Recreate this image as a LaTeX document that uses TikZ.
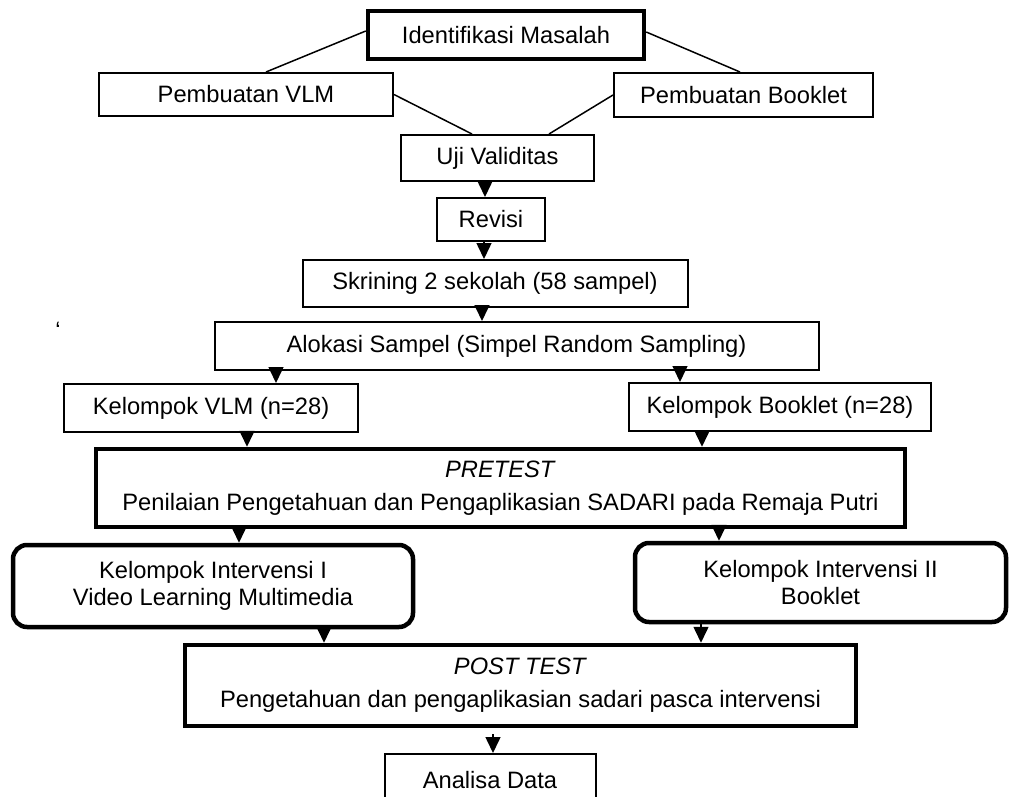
\documentclass[tikz,border=0pt]{standalone}
\usepackage{fontspec}
\setmainfont{Liberation Sans}
\usetikzlibrary{arrows.meta}
\begin{document}
\begin{tikzpicture}[x=1pt,y=-1pt,
  font=\fontsize{23.7}{27.3}\selectfont,
  box/.style={draw=black, line width=2pt, inner sep=0pt, align=center},
  tbox/.style={box, line width=4.5pt},
  rbox/.style={tbox, rounded corners=14pt},
  conn/.style={line width=1.5pt},
  arr/.style={line width=1.5pt, -{Triangle[length=16pt,width=15pt]}}]
\useasboundingbox (0,0) rectangle (1013,796);
\fill[white] (0,0) rectangle (1013,796);

\node[tbox, minimum width=276pt, minimum height=48pt] (ident) at (506,35) {Identifikasi Masalah};
\node[box, minimum width=294pt, minimum height=43pt] (vlm) at (246,94.5) {Pembuatan VLM};
\node[box, minimum width=259pt, minimum height=44pt] (book) at (743.5,95) {Pembuatan Booklet};
\node[box, minimum width=193pt, minimum height=46pt] (uji) at (497.5,158) {Uji Validitas};
\node[box, minimum width=108pt, minimum height=43pt] (revisi) at (491,219.5) {Revisi};
\node[box, minimum width=385pt, minimum height=47pt] (skrining) at (495,283.5) {Skrining 2 sekolah (58 sampel)};
\node[box, minimum width=604pt, minimum height=48pt] (alokasi) at (516.5,346) {Alokasi Sampel (Simpel Random Sampling)};
\node (tick) at (58,330) {`};
\node[box, minimum width=294pt, minimum height=48pt] (kvlm) at (211,408) {Kelompok VLM (n=28)};
\node[box, minimum width=302pt, minimum height=48pt] (kbook) at (780,407) {Kelompok Booklet (n=28)};
\node[tbox, minimum width=809pt, minimum height=78pt] (pretest) at (500.5,488)
  {\textit{PRETEST}\\[6pt]Penilaian Pengetahuan dan Pengaplikasian SADARI pada Remaja Putri};
\node[rbox, minimum width=400pt, minimum height=82pt] (int1) at (213,586)
  {Kelompok Intervensi I\\Video Learning Multimedia};
\node[rbox, minimum width=371pt, minimum height=79pt] (int2) at (820.5,582.5)
  {Kelompok Intervensi II\\Booklet};
\node[tbox, minimum width=671pt, minimum height=81pt] (post) at (520.5,685.5)
  {\textit{POST TEST}\\[6pt]Pengetahuan dan pengaplikasian sadari pasca intervensi};
\node[box, minimum width=211pt, minimum height=52pt] (analisa) at (490,780) {Analisa Data};

\draw[conn] ([yshift=4pt]ident.west) -- ([xshift=20pt]vlm.north);
\draw[conn] ([yshift=3pt]ident.east) -- ([xshift=-3.5pt]book.north);
\draw[conn] (vlm.east) -- ([xshift=-25.5pt]uji.north);
\draw[conn] (book.west) -- ([xshift=51.5pt]uji.north);

\foreach \s/\t/\dx in {uji/revisi/-12.5, revisi/skrining/-7, skrining/alokasi/-13,
  alokasi/kvlm/-240.5, alokasi/kbook/163.5, kvlm/pretest/36, kbook/pretest/-78,
  pretest/int1/-261.5, pretest/int2/218.5, int1/post/111, int2/post/-119.5}{
  \path ([xshift=\dx pt]\s.south) coordinate (tmp);
  \draw[arr] (tmp) -- (tmp |- \t.north);
}
\path ([xshift=-27.5pt]post.south) coordinate (pa);
\draw[arr, shorten <=6pt] (pa) -- (pa |- analisa.north);
\end{tikzpicture}
\end{document}
